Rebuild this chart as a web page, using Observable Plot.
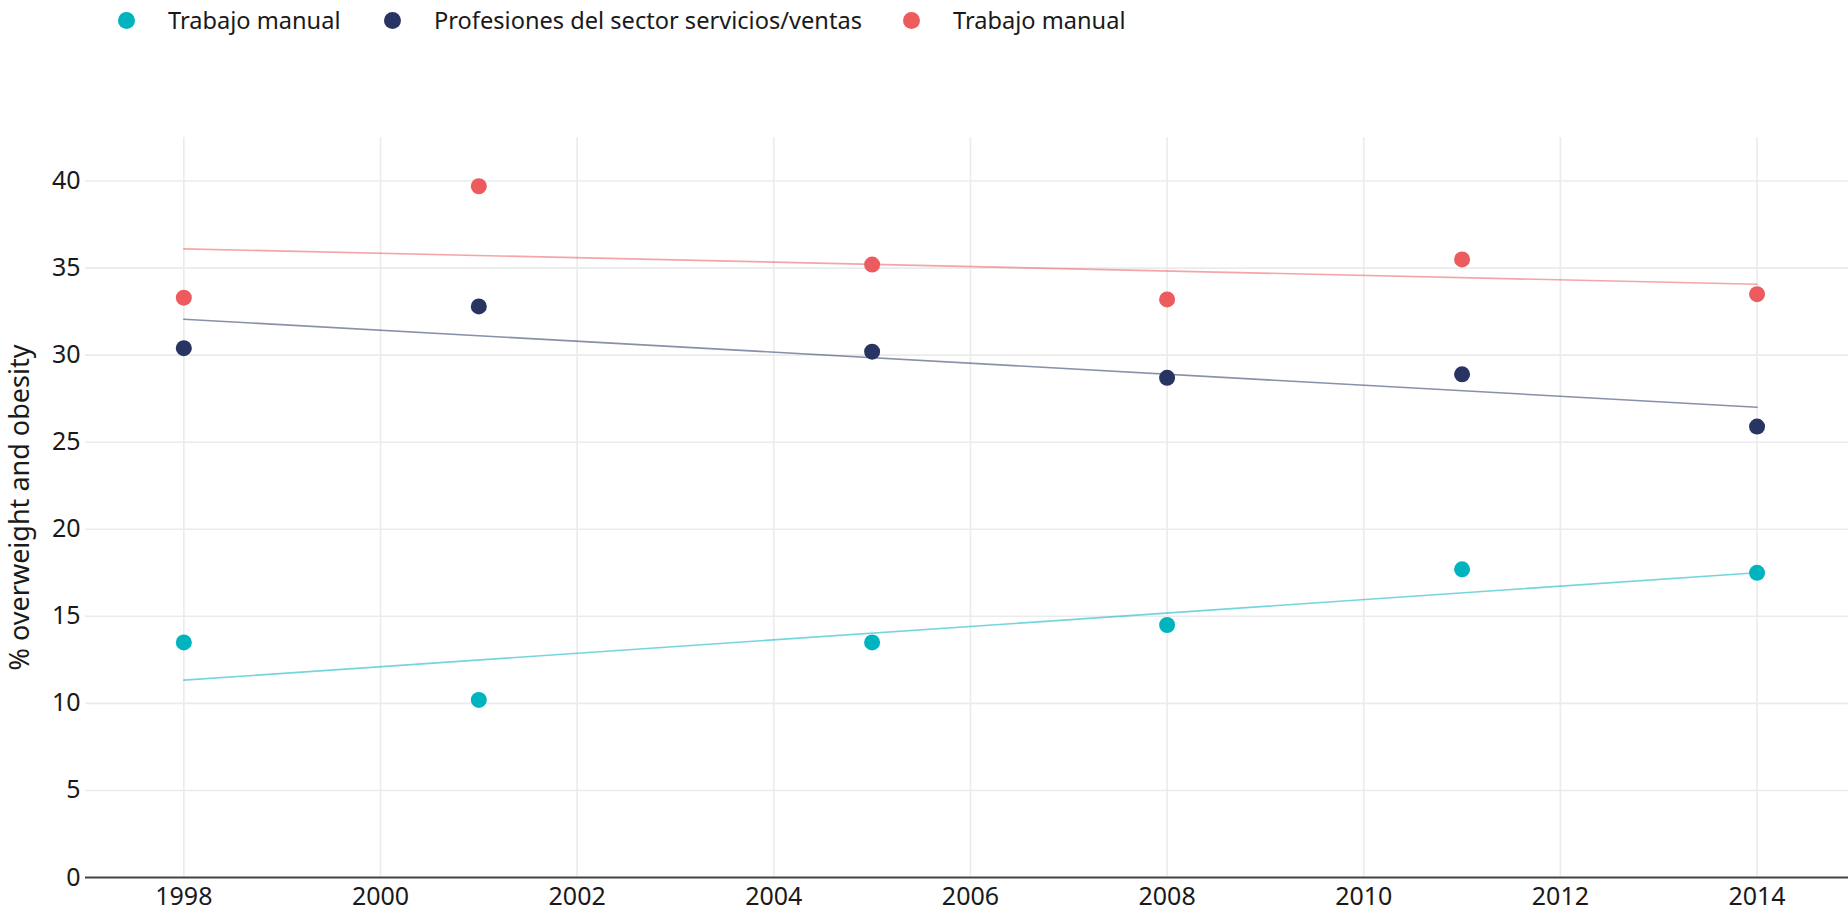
<!DOCTYPE html>
<html>
<head>
<meta charset="utf-8">
<script src="https://cdn.jsdelivr.net/npm/d3@7"></script>
<script src="https://cdn.jsdelivr.net/npm/@observablehq/plot@0.6"></script>
<style>
  html, body { margin: 0; padding: 0; background: #fff; }
  body { font-family: "Noto Sans", sans-serif; color: #1a1a1a; }
  #legend { position: relative; height: 40px; }
  .item { position: absolute; top: 0; height: 40px; display: flex; align-items: center; font-size: 23.6px; white-space: nowrap; }
  .sw { width: 17px; height: 17px; border-radius: 50%; margin-right: 33px; flex: none; }
</style>
</head>
<body>
<div id="legend"></div>
<div id="chart"></div>
<script>
const years = [1998, 2001, 2005, 2008, 2011, 2014];
const seriesKeys = ["manual_a", "servicios", "manual_b"];
const seriesLabels = ["Trabajo manual", "Profesiones del sector servicios/ventas", "Trabajo manual"];
const seriesColors = ["#00b4bf", "#283562", "#ec5b5d"];
const valuesManualA = [13.5, 10.2, 13.5, 14.5, 17.7, 17.5];
const valuesServicios = [30.4, 32.8, 30.2, 28.7, 28.9, 25.9];
const valuesManualB = [33.3, 39.7, 35.2, 33.2, 35.5, 33.5];
const xTicks = [1998, 2000, 2002, 2004, 2006, 2008, 2010, 2012, 2014];
const yTicks = [0, 5, 10, 15, 20, 25, 30, 35, 40];
const yLabel = "% overweight and obesity";
const legendX = [118, 384, 903];

const seriesValues = [valuesManualA, valuesServicios, valuesManualB];
const data = [];
seriesKeys.forEach((k, i) => years.forEach((yr, j) => data.push({series: k, year: yr, value: seriesValues[i][j]})));

// legend
const legend = document.getElementById("legend");
seriesLabels.forEach((lab, i) => {
  const it = document.createElement("div");
  it.className = "item";
  it.style.left = legendX[i] + "px";
  const sw = document.createElement("span");
  sw.className = "sw";
  sw.style.background = seriesColors[i];
  const tx = document.createElement("span");
  tx.textContent = lab;
  it.appendChild(sw); it.appendChild(tx);
  legend.appendChild(it);
});

const chart = Plot.plot({
  width: 1848,
  height: 882,
  marginTop: 97,
  marginBottom: 45,
  marginLeft: 85,
  marginRight: 0,
  style: {fontFamily: "Noto Sans, sans-serif", fontSize: "25px", color: "#1a1a1a", background: "#fff"},
  x: {domain: [1997.0, 2014.93]},
  y: {domain: [0, 42.5]},
  color: {domain: seriesKeys, range: seriesColors},
  marks: [
    Plot.gridX(xTicks, {stroke: "#ebebeb", strokeOpacity: 1, strokeWidth: 1.6}),
    Plot.gridY(yTicks, {stroke: "#ebebeb", strokeOpacity: 1, strokeWidth: 1.6}),
    Plot.ruleY([0], {stroke: "#444", strokeWidth: 2}),
    Plot.linearRegressionY(data, {x: "year", y: "value", stroke: "series", ci: 0, strokeWidth: 1.6, strokeOpacity: 0.55}),
    Plot.dot(data, {x: "year", y: "value", fill: "series", r: 8, stroke: null}),
    Plot.axisX(xTicks, {tickSize: 0, tickPadding: 10, tickFormat: d => String(d), label: null, fontSize: 25}),
    Plot.axisY(yTicks, {tickSize: 0, tickPadding: 5, label: null, fontSize: 25}),
    Plot.text([yLabel], {frameAnchor: "left", textAnchor: "middle", rotate: -90, dx: -65, fontSize: 27, fill: "#1a1a1a"})
  ]
});
document.getElementById("chart").appendChild(chart);
</script>
</body>
</html>
